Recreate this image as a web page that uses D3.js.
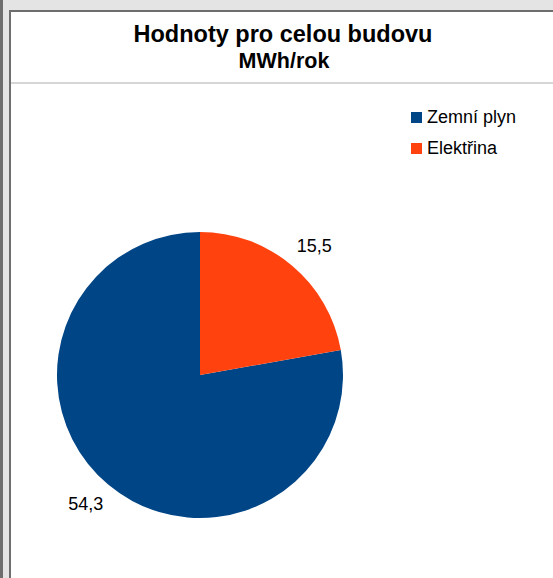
<!DOCTYPE html>
<html>
<head>
<meta charset="utf-8">
<script src="https://cdn.jsdelivr.net/npm/d3@7"></script>
<style>
  html, body { margin: 0; padding: 0; background: #fff; }
  svg { display: block; font-family: "Liberation Sans", Arial, sans-serif; }
</style>
</head>
<body>
<div id="chart"></div>
<script>
// Chart data
const categories = ['Zemní plyn', 'Elektřina'];
const values = [54.3, 15.5];
const valueLabels = ['54,3', '15,5'];
const colors = ['#004586', '#ff420e'];

const width = 553;
const height = 578;

const svg = d3.select('#chart')
  .append('svg')
  .attr('width', width)
  .attr('height', height);

// Window frame (grey border on the left and top)
svg.append('rect').attr('x', 0).attr('y', 0).attr('width', width).attr('height', height).attr('fill', '#e4e4e4');
svg.append('rect').attr('x', 0).attr('y', 0).attr('width', 3).attr('height', height).attr('fill', '#6e6e6e');
svg.append('rect').attr('x', 9).attr('y', 10).attr('width', width - 9).attr('height', height - 10).attr('fill', '#6e6e6e');
svg.append('rect').attr('x', 11).attr('y', 12).attr('width', width - 11).attr('height', height - 12).attr('fill', '#ffffff');

// Title area
const cx = 283;
svg.append('text')
  .attr('x', cx).attr('y', 42)
  .attr('text-anchor', 'middle')
  .attr('font-size', 23.5).attr('font-weight', 'bold')
  .attr('fill', '#000')
  .text('Hodnoty pro celou budovu');

svg.append('text')
  .attr('x', cx + 1).attr('y', 68)
  .attr('text-anchor', 'middle')
  .attr('font-size', 21.5).attr('font-weight', 'bold')
  .attr('fill', '#000')
  .text('MWh/rok');

svg.append('rect')
  .attr('x', 11).attr('y', 82).attr('width', width - 11).attr('height', 2)
  .attr('fill', '#d6d6d6');

// Pie
const radius = 143;
const pieCenter = [200, 375];

const pie = d3.pie()
  .sort(null)
  .startAngle(2 * Math.PI)
  .endAngle(0);

const arcs = pie(values);
const arc = d3.arc().innerRadius(0).outerRadius(radius);

// labels sit a bit further out sideways than vertically
const labelPos = d => {
  const a = (d.startAngle + d.endAngle) / 2;
  return [Math.sin(a) * (radius + 35), -Math.cos(a) * (radius + 25)];
};

const pieG = svg.append('g')
  .attr('transform', `translate(${pieCenter[0]}, ${pieCenter[1]})`);

pieG.selectAll('path.slice')
  .data(arcs)
  .enter()
  .append('path')
  .attr('class', 'slice')
  .attr('d', arc)
  .attr('fill', (d, i) => colors[i]);

pieG.selectAll('text.value')
  .data(arcs)
  .enter()
  .append('text')
  .attr('class', 'value')
  .attr('transform', d => `translate(${labelPos(d)})`)
  .attr('text-anchor', 'middle')
  .attr('dominant-baseline', 'central')
  .attr('font-size', 18)
  .attr('fill', '#000')
  .text((d, i) => valueLabels[i]);

// Legend
const legend = svg.append('g')
  .attr('transform', 'translate(411, 112)');

const items = legend.selectAll('g.item')
  .data(categories)
  .enter()
  .append('g')
  .attr('class', 'item')
  .attr('transform', (d, i) => `translate(0, ${i * 31})`);

items.append('rect')
  .attr('width', 11).attr('height', 11)
  .attr('fill', (d, i) => colors[i]);

items.append('text')
  .attr('x', 16).attr('y', 11)
  .attr('font-size', 18)
  .attr('fill', '#000')
  .text(d => d);
</script>
</body>
</html>
